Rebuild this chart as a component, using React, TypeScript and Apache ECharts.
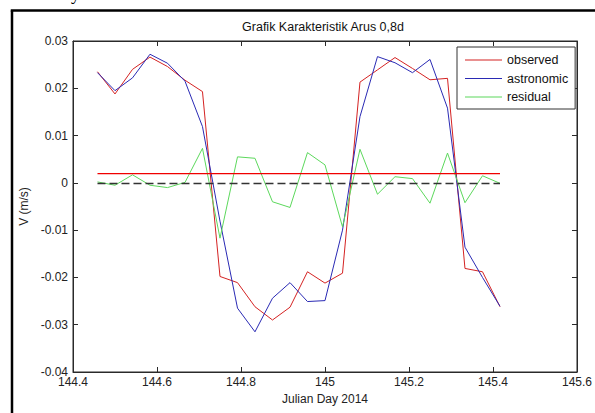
import React, { useEffect, useRef } from "react";
import * as echarts from "echarts";

// Hourly samples (Julian Day 2014)
const julianDay = [
  144.4583, 144.5, 144.5417, 144.5833, 144.625, 144.6667, 144.7083, 144.75,
  144.7917, 144.8333, 144.875, 144.9167, 144.9583, 145.0, 145.0417, 145.0833,
  145.125, 145.1667, 145.2083, 145.25, 145.2917, 145.3333, 145.375, 145.4167,
];

const observed = [
  0.0235, 0.0188, 0.024, 0.0266, 0.0246, 0.0217, 0.0193, -0.0198,
  -0.0211, -0.0262, -0.029, -0.0263, -0.0188, -0.0212, -0.0191, 0.0213,
  0.0239, 0.0265, 0.0242, 0.0218, 0.0221, -0.0181, -0.0188, -0.0262,
];

const astronomic = [
  0.0233, 0.0195, 0.0222, 0.0272, 0.0253, 0.0215, 0.0119, -0.0081,
  -0.0265, -0.0315, -0.0244, -0.0211, -0.0251, -0.0249, -0.01, 0.014,
  0.0267, 0.0254, 0.0233, 0.0261, 0.0158, -0.0136, -0.02, -0.0261,
];

const residual = [
  0.0002, -0.0005, 0.0017, -0.0005, -0.001, 0.0001, 0.0073, -0.0117,
  0.0055, 0.0052, -0.004, -0.0052, 0.0064, 0.0038, -0.0093, 0.0071,
  -0.0024, 0.0013, 0.0009, -0.0043, 0.0063, -0.0042, 0.0015, -0.0001,
];

const meanObserved = 0.002;
const zeroLevel = 0;

const seriesNames = ["observed", "astronomic", "residual"];
const titleText = "Grafik Karakteristik Arus 0,8d";
const xName = "Julian Day 2014";
const yName = "V (m/s)";

const FONT = '"Liberation Sans", Arial, sans-serif';
const AXIS_COLOR = "#2a2a2a";
const RED = "#d42222";
const BLUE = "#2a2ab4";
const GREEN = "#5cd85c";
const MEAN_RED = "#f00000";

export default function App() {
  const ref = useRef<HTMLDivElement>(null);

  useEffect(() => {
    if (!ref.current) return;
    const chart = echarts.init(ref.current, undefined, { renderer: "svg" });

    const pair = (vals: number[]) => julianDay.map((x, i) => [x, vals[i]]);
    const first = julianDay[0];
    const last = julianDay[julianDay.length - 1];

    const xFmt = (v: number) => String(Number(v.toFixed(1)));
    const yFmt = (v: number) => String(Number(v.toFixed(2)));

    const tick = { show: true, inside: true, length: 5, lineStyle: { color: AXIS_COLOR } };
    const line = { show: true, onZero: false, lineStyle: { color: AXIS_COLOR, width: 1 } };

    chart.setOption({
      animation: false,
      backgroundColor: "#ffffff",
      textStyle: { fontFamily: FONT },
      title: {
        text: titleText,
        left: 323,
        top: 20,
        textAlign: "center",
        padding: 0,
        textStyle: { fontFamily: FONT, fontSize: 12.5, fontWeight: "normal", color: "#111" },
      },
      legend: {
        data: seriesNames,
        orient: "vertical",
        left: 457,
        top: 47,
        padding: [6, 7, 5, 8],
        icon: "rect",
        itemWidth: 37,
        itemHeight: 1.2,
        itemGap: 4.5,
        borderColor: "#333",
        borderWidth: 1,
        borderRadius: 0,
        backgroundColor: "#ffffff",
        textStyle: { fontFamily: FONT, fontSize: 12.5, color: "#111", lineHeight: 14 },
      },
      grid: {
        left: 73,
        top: 41,
        right: 15,
        bottom: 41,
        show: true,
        borderColor: AXIS_COLOR,
        borderWidth: 1,
        backgroundColor: "#ffffff",
      },
      xAxis: [
        {
          type: "value",
          min: 144.4,
          max: 145.6,
          interval: 0.2,
          position: "bottom",
          axisLine: line,
          axisTick: tick,
          splitLine: { show: false },
          axisLabel: { formatter: xFmt, fontSize: 12, color: "#222", margin: 4, fontFamily: FONT },
          name: xName,
          nameLocation: "middle",
          nameGap: 21,
          nameTextStyle: { fontSize: 12, color: "#222", fontFamily: FONT },
        },
        {
          type: "value",
          min: 144.4,
          max: 145.6,
          interval: 0.2,
          position: "top",
          axisLine: line,
          axisTick: tick,
          splitLine: { show: false },
          axisLabel: { show: false },
        },
      ],
      yAxis: [
        {
          type: "value",
          min: -0.04,
          max: 0.03,
          interval: 0.01,
          position: "left",
          axisLine: line,
          axisTick: tick,
          splitLine: { show: false },
          axisLabel: { formatter: yFmt, fontSize: 12, color: "#222", margin: 5, fontFamily: FONT },
          name: yName,
          nameLocation: "middle",
          nameGap: 39,
          nameTextStyle: { fontSize: 12, color: "#222", fontFamily: FONT },
        },
        {
          type: "value",
          min: -0.04,
          max: 0.03,
          interval: 0.01,
          position: "right",
          axisLine: line,
          axisTick: tick,
          splitLine: { show: false },
          axisLabel: { show: false },
        },
      ],
      series: [
        {
          name: "observed",
          type: "line",
          data: pair(observed),
          symbol: "none",
          color: RED,
          itemStyle: { color: RED },
          lineStyle: { width: 1, color: RED },
          z: 3,
          markLine: {
            silent: true,
            symbol: ["none", "none"],
            label: { show: false },
            emphasis: { disabled: true },
            data: [
              [
                { coord: [first, meanObserved], lineStyle: { color: MEAN_RED, width: 1.25, type: "solid" } },
                { coord: [last, meanObserved] },
              ],
              [
                { coord: [first, zeroLevel], lineStyle: { color: "#333333", width: 1.3, type: [8, 4] } },
                { coord: [last, zeroLevel] },
              ],
            ],
          },
        },
        {
          name: "astronomic",
          type: "line",
          data: pair(astronomic),
          symbol: "none",
          color: BLUE,
          itemStyle: { color: BLUE },
          lineStyle: { width: 1, color: BLUE },
          z: 3,
        },
        {
          name: "residual",
          type: "line",
          data: pair(residual),
          symbol: "none",
          color: GREEN,
          itemStyle: { color: GREEN },
          lineStyle: { width: 1, color: GREEN },
          z: 3,
        },
      ],
      graphic: [
        {
          type: "line",
          shape: { x1: 12, y1: 10.5, x2: 12, y2: 420 },
          style: { stroke: "#000", lineWidth: 2.5 },
          silent: true,
        },
        {
          type: "line",
          shape: { x1: 10.75, y1: 10.5, x2: 600, y2: 10.5 },
          style: { stroke: "#000", lineWidth: 2.5 },
          silent: true,
        },
        {
          type: "text",
          x: 71,
          y: -15,
          style: { text: "y", font: '18px "Liberation Serif", serif', fill: "#000" },
          silent: true,
        },
      ],
    });

    return () => chart.dispose();
  }, []);

  return (
    <div
      ref={ref}
      style={{ position: "fixed", left: 0, top: 0, width: 595, height: 413, background: "#fff" }}
    />
  );
}
